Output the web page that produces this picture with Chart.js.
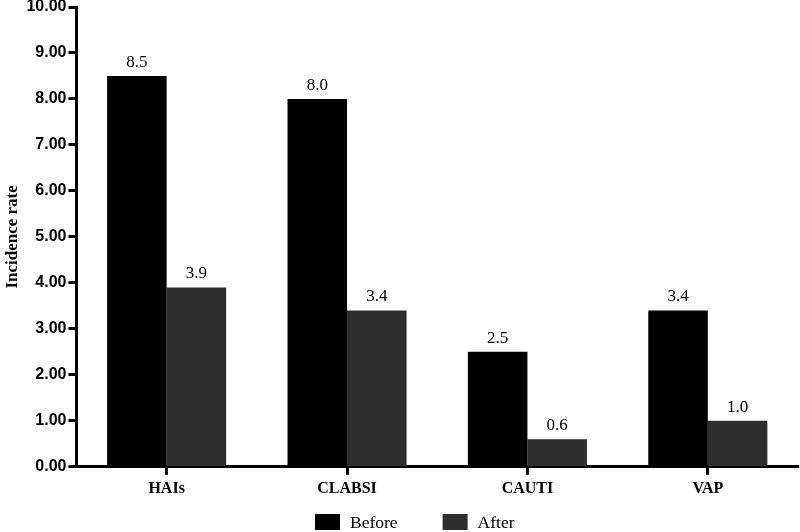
<!DOCTYPE html>
<html>
<head>
<meta charset="utf-8">
<script src="https://cdn.jsdelivr.net/npm/chart.js@4"></script>
<style>
  body { margin: 0; background: #fff; }
  #wrap { width: 800px; height: 532px; position: relative; }
</style>
</head>
<body>
<div id="wrap"><canvas id="incidenceChart"></canvas></div>
<script>
// Data
var categories = ["HAIs", "CLABSI", "CAUTI", "VAP"];
var beforeValues = [8.5, 8.0, 2.5, 3.4];
var afterValues = [3.9, 3.4, 0.6, 1.0];
var seriesNames = ["Before", "After"];

var serif = "'Liberation Serif', 'Times New Roman', serif";
var sans = "'Liberation Sans', Arial, sans-serif";

// Value labels above each bar
var valueLabels = {
	id: "valueLabels",
	afterDatasetsDraw: function(chart) {
		var ctx = chart.ctx;
		ctx.save();
		ctx.fillStyle = "#000";
		ctx.font = "17px " + serif;
		ctx.textAlign = "center";
		ctx.textBaseline = "bottom";
		chart.data.datasets.forEach(function(ds, i) {
			chart.getDatasetMeta(i).data.forEach(function(bar, j) {
				ctx.fillText(ds.data[j].toFixed(1), bar.x, bar.y - 5);
			});
		});
		ctx.restore();
	}
};

// Legend at the bottom, drawn by hand so the item spacing can be wide
var bottomLegend = {
	id: "bottomLegend",
	afterDraw: function(chart) {
		var ctx = chart.ctx;
		ctx.save();
		ctx.font = "17.5px " + serif;
		ctx.textBaseline = "middle";
		var cy = chart.height - 10;
		var x = chart.width / 2 - 85;
		chart.data.datasets.forEach(function(ds) {
			ctx.fillStyle = ds.backgroundColor;
			ctx.fillRect(x, cy - 8, 25, 16);
			ctx.fillStyle = "#000";
			ctx.fillText(ds.label, x + 35, cy + 1);
			x += 35 + ctx.measureText(ds.label).width + 45;
		});
		ctx.restore();
	}
};

var chart = new Chart(document.getElementById("incidenceChart").getContext("2d"), {
	type: "bar",
	data: {
		labels: categories,
		datasets: [{
			label: seriesNames[0],
			data: beforeValues,
			backgroundColor: "#000000"
		}, {
			label: seriesNames[1],
			data: afterValues,
			backgroundColor: "#2e2e2e"
		}]
	},
	options: {
		responsive: true,
		maintainAspectRatio: false,
		animation: false,
		categoryPercentage: 0.66,
		barPercentage: 1,
		layout: { padding: { top: 7, right: 2, left: 0, bottom: 30 } },
		plugins: {
			tooltip: { enabled: false },
			legend: { display: false }
		},
		scales: {
			x: {
				grid: {
					drawOnChartArea: false,
					offset: false,
					tickLength: 8,
					tickWidth: 3,
					tickColor: "#000"
				},
				border: { color: "#000", width: 3 },
				ticks: {
					color: "#000",
					padding: 4,
					font: { family: serif, size: 16, weight: "bold" }
				}
			},
			y: {
				min: 0,
				max: 10,
				afterFit: function(scale) { scale.paddingTop = 0; },
				ticks: {
					stepSize: 1,
					color: "#000",
					padding: 2,
					font: { family: sans, size: 16, weight: "bold" },
					callback: function(v) { return v.toFixed(2); }
				},
				grid: {
					drawOnChartArea: false,
					tickLength: 8,
					tickWidth: 3,
					tickColor: "#000"
				},
				border: { color: "#000", width: 3 },
				title: {
					display: true,
					text: "Incidence rate",
					color: "#000",
					padding: 2,
					font: { family: serif, size: 17, weight: "bold" }
				}
			}
		}
	},
	plugins: [valueLabels, bottomLegend]
});
</script>
</body>
</html>
